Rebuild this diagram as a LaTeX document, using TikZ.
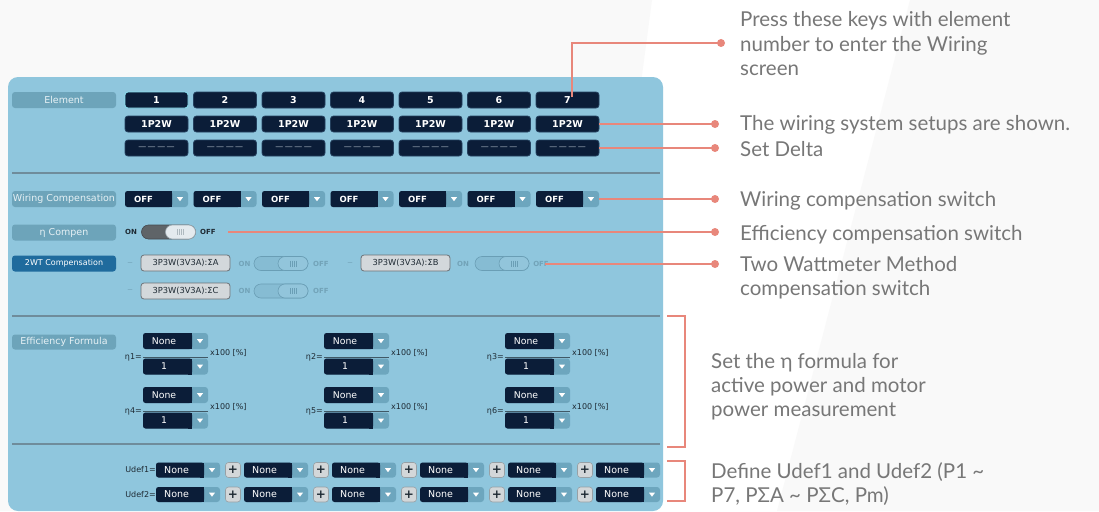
\documentclass[tikz,border=0pt]{standalone}
\usepackage{fontspec}
\setmainfont{DejaVu Sans}
\newfontfamily\annfont{Lato}
\usetikzlibrary{calc}

\definecolor{panel}{HTML}{8FC6DD}
\definecolor{lbl}{HTML}{6DA4BA}
\definecolor{lbltext}{HTML}{E6F1F5}
\definecolor{navy}{HTML}{0B1D38}
\definecolor{navyb}{HTML}{24405E}
\definecolor{sel}{HTML}{8BE0F0}
\definecolor{arr}{HTML}{6DA6BE}
\definecolor{sep}{HTML}{6F8C9B}
\definecolor{salmon}{HTML}{E8877B}
\definecolor{anntext}{HTML}{777777}
\definecolor{wtblue}{HTML}{1F6B9D}
\definecolor{graybox}{HTML}{D3D8DB}
\definecolor{grayborder}{HTML}{6B7176}
\definecolor{darktext}{HTML}{1E2A33}
\definecolor{dashtext}{HTML}{A9B4C2}
\definecolor{bgshade}{HTML}{F9F9F9}
\definecolor{plusfill}{HTML}{D3D7D9}
\definecolor{plusborder}{HTML}{97A0A5}
\definecolor{tgdark}{HTML}{5F6468}
\definecolor{tgdarkb}{HTML}{454A4F}
\definecolor{knob}{HTML}{E4EAEE}
\definecolor{knobb}{HTML}{9FAAB0}
\definecolor{knobstripe}{HTML}{AEB9BF}
\definecolor{tgfade}{HTML}{86BCD3}
\definecolor{tgfadeb}{HTML}{6A9EB5}
\definecolor{knobfade}{HTML}{92C5DB}
\definecolor{fadetext}{HTML}{72A3B8}
\definecolor{dashfade}{HTML}{5F8A9E}

\newcommand\uisz[1]{\fontsize{#1}{#1}\selectfont}

\tikzset{
  lblbox/.style={fill=lbl, rounded corners=3, minimum width=104, minimum height=16, inner sep=0, text=lbltext, font=\uisz{9.5}},
  key/.style={fill=navy, draw=navyb, line width=0.8, rounded corners=3, minimum width=63, minimum height=16, inner sep=0, text=white, font=\bfseries\uisz{9.5}},
  ddshape/.style={fill=arr, rounded corners=3, inner sep=0},
  ddtext/.style={text=white, inner sep=0, font=\uisz{9.3}},
  sepline/.style={draw=sep, line width=1.6},
  conn/.style={draw=salmon, line width=1.8},
  dot/.style={circle, fill=salmon, inner sep=0, minimum size=8},
  ann/.style={anchor=base west, align=left, inner sep=0, text=anntext, font=\annfont\fontsize{20.5}{24}\selectfont},
  small/.style={inner sep=0, font=\uisz{8}, text=darktext},
  sigbox/.style={fill=graybox, draw=grayborder, line width=0.8, rounded corners=3, minimum width=89, minimum height=16, inner sep=0, font=\uisz{8.3}, text=darktext},
  plusbtn/.style={fill=plusfill, draw=plusborder, line width=0.6, rounded corners=3, minimum width=15, minimum height=15, inner sep=0, font=\bfseries\uisz{12}, text=darktext},
  trackdark/.style={fill=tgdark, draw=tgdarkb, line width=0.6},
  knobdark/.style={fill=knob, draw=knobb, line width=0.6},
  trackfade/.style={fill=tgfade, draw=tgfadeb, line width=0.6},
  knobfade/.style={fill=knobfade, draw=tgfadeb, line width=0.6},
  onoff/.style={inner sep=0, font=\bfseries\uisz{7}, text=darktext},
  onofffade/.style={inner sep=0, font=\bfseries\uisz{7}, text=fadetext},
  tinydash/.style={inner sep=0, font=\uisz{5}, text=dashfade},
  fracline/.style={draw=darktext!70!panel, line width=0.7},
}

% #1 name #2 left #3 cy #4 width #5 half height #6 text #7 text options
\newcommand\dropdown[7]{%
  \node[ddshape, minimum width=#4, minimum height=2*#5] (#1) at (#2+#4/2,#3) {};
  \fill[navy, rounded corners=2.5] (#2,#3-#5) rectangle (#2+#4-16,#3+#5);
  \fill[navy] (#2+#4-20,#3-#5) rectangle (#2+#4-16,#3+#5);
  \fill[white] (#2+#4-11,#3-1.8) -- (#2+#4-5,#3-1.8) -- (#2+#4-8,#3+2.2) -- cycle;
  \node[ddtext, #7] at (#2,#3) {#6};
}
% #1 name #2 left #3 cy #4 track style #5 knob style #6 stripe colour
\newcommand\toggleswitch[6]{%
  \node[#4, minimum width=54, minimum height=14, rounded corners=7, inner sep=0] (#1) at (#2+27,#3) {};
  \node[#5, minimum width=30, minimum height=14, rounded corners=7, inner sep=0] (#1k) at (#2+39,#3) {};
  \foreach \s in {-3,-1,1,3} \draw[#6, line width=0.5] (#2+39+\s,#3-3) -- (#2+39+\s,#3+3);
}

\begin{document}
\begin{tikzpicture}[x=1pt,y=-1pt]
\useasboundingbox (0,0) rectangle (1099,511);
\fill[white] (0,0) rectangle (1099,511);
\fill[bgshade] (0,0) -- (652,0) -- (584,511) -- (0,511) -- cycle;
\fill[bgshade] (910,0) -- (1099,0) -- (1099,511) -- (777,511) -- cycle;
\fill[panel, rounded corners=10] (8,77) rectangle (663,511);

% ---------- row labels
\node[lblbox] (lElem) at (64,100) {Element};
\node[lblbox] (lWC) at (64,199) {Wiring Compensation};
\node[lblbox] (lEta) at (64,232.5) {η Compen};
\node[lblbox, fill=wtblue, text=white, font=\uisz{8}] (l2wt) at (64,263.5) {2WT Compensation};
\node[lblbox, minimum height=15] (lEff) at (64,342) {Efficiency Formula};

% ---------- element keys
\node[key, draw=sel] (k1) at (156.5,100) {1};
\foreach \i in {2,...,7} {
  \pgfmathsetmacro\cx{156.5+68.5*(\i-1)}
  \node[key] (k\i) at (\cx,100) {\i};
}
\foreach \i in {1,...,7} {
  \pgfmathsetmacro\cx{156.5+68.5*(\i-1)}
  \node[key] (w\i) at (\cx,124) {1P2W};
  \node[key, text=dashtext, font=\uisz{8}] (d\i) at (\cx,148) {—\kern1.5pt—\kern1.5pt—\kern1.5pt—};
}
\draw[sepline] (12,173) -- (660,173);

% ---------- wiring compensation
\foreach \i in {1,...,7} {
  \pgfmathsetmacro\lx{125+68.5*(\i-1)}
  \dropdown{wc\i}{\lx}{199}{63}{8}{OFF}{anchor=west, xshift=9, font=\bfseries\uisz{8.5}}
}

% ---------- eta compen
\node[onoff] (etaon) at (131,232) {ON};
\toggleswitch{etatog}{141.5}{232}{trackdark}{knobdark}{knobstripe}
\node[onoff] (etaoff) at (208,232) {OFF};

% ---------- 2WT compensation
\node[tinydash] (dA) at (130,263.5) {—};
\node[sigbox] (sA) at (185.5,263) {3P3W(3V3A):ΣA};
\node[onofffade] (onA) at (244.5,263.5) {ON};
\toggleswitch{tgA}{254}{263.5}{trackfade}{knobfade}{tgfadeb}
\node[onofffade] (offA) at (321,263.5) {OFF};

\node[tinydash] (dB) at (350,263.5) {—};
\node[sigbox] (sB) at (405.5,263) {3P3W(3V3A):ΣB};
\node[onofffade] (onB) at (463,263.5) {ON};
\toggleswitch{tgB}{475}{263.5}{trackfade}{knobfade}{tgfadeb}
\node[onofffade] (offB) at (541,263.5) {OFF};

\node[tinydash] (dC) at (130,291) {—};
\node[sigbox] (sC) at (185.5,291) {3P3W(3V3A):ΣC};
\node[onofffade] (onC) at (244.5,291) {ON};
\toggleswitch{tgC}{254}{291}{trackfade}{knobfade}{tgfadeb}
\node[onofffade] (offC) at (321,291) {OFF};

\draw[sepline] (12,316) -- (660,316);

% ---------- efficiency formula
\foreach \lx/\n/\ty in {143/1/341, 324/2/341, 505/3/341, 143/4/395, 324/5/395, 505/6/395} {
  \pgfmathsetmacro\by{\ty+25.5}
  \pgfmathsetmacro\ly{\ty+16}
  \pgfmathsetmacro\xy{\ty+11.5}
  \dropdown{en\n}{\lx}{\ty}{65}{8}{None}{xshift=21}
  \dropdown{ed\n}{\lx}{\by}{65}{8}{1}{xshift=21}
  \draw[fracline] (\lx,\ly) -- (\lx+65,\ly);
  \node[small, anchor=east] (eta\n) at (\lx-1,\ly) {η\n=};
  \node[small, anchor=west] (x\n) at (\lx+67,\xy) {x100 [\%]};
}

\draw[sepline] (12,444) -- (660,444);

% ---------- udef
\foreach \r/\ry in {1/470, 2/494.5} {
  \node[small, anchor=east] (u\r) at (156,\ry) {Udef\r=};
  \foreach \j in {1,...,6} {
    \pgfmathsetmacro\lx{156+88*(\j-1)}
    \dropdown{ud\r\j}{\lx}{\ry}{64}{7.5}{None}{anchor=west, xshift=8, font=\uisz{9.5}}
  }
  \foreach \j in {1,...,5} {
    \pgfmathsetmacro\px{233+88*(\j-1)}
    \node[plusbtn] (p\r\j) at (\px,\ry) {+};
  }
}

% ---------- annotations
\coordinate (k7tip) at (572,97);
\coordinate (effstart) at (228,232);
\coordinate (twstart) at (545,264);
\node[dot] (dot1) at (721,43) {};
\node[dot] (dot2) at (715,124) {};
\node[dot] (dot3) at (715,148) {};
\node[dot] (dot4) at (715,199) {};
\node[dot] (dot5) at (715,232) {};
\node[dot] (dot6) at (715,264) {};

\draw[conn] (k7tip) |- (dot1.center);
\draw[conn] (w7.east) -- (dot2.center);
\draw[conn] (d7.east) -- (dot3.center);
\draw[conn] (wc7.east) -- (dot4.center);
\draw[conn] (effstart) -- (dot5.center);
\draw[conn] (twstart) -- (dot6.center);

\coordinate (br1t) at (667,316);
\coordinate (br1b) at (667,447);
\coordinate (br2t) at (667,461);
\coordinate (br2b) at (667,501);
\draw[conn] (br1t) -- ++(18,0) |- (br1b);
\draw[conn] (br2t) -- ++(18,0) |- (br2b);

\node[ann] (t1) at (740,75) {Press these keys with element\\number to enter the Wiring\\screen};
\node[ann] (t2) at (740,130) {The wiring system setups are shown.};
\node[ann] (t3) at (740,156.5) {Set Delta};
\node[ann] (t4) at (740,206.5) {Wiring compensation switch};
\node[ann] (t5) at (740,240) {Efficiency compensation switch};
\node[ann] (t6) at (740,295) {Two Wattmeter Method\\compensation switch};
\node[ann] (t7) at (711,416.5) {Set the η formula for\\active power and motor\\power measurement};
\node[ann] (t8) at (711,502) {Define Udef1 and Udef2 (P1 \textasciitilde\\P7, PΣA \textasciitilde{} PΣC, Pm)};
\end{tikzpicture}
\end{document}
